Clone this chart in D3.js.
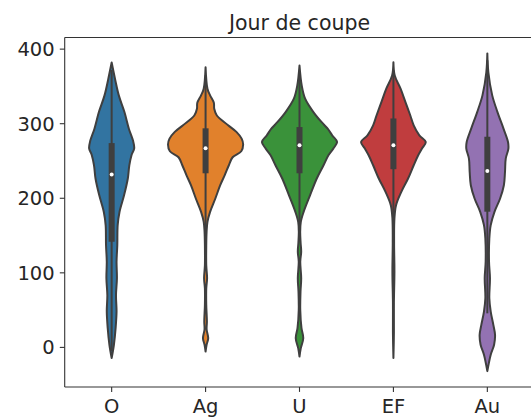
<!DOCTYPE html>
<html><head><meta charset="utf-8">
<script src="https://cdn.jsdelivr.net/npm/d3@7"></script>
<style>body{margin:0;background:#fff}svg{display:block}text{font-family:"DejaVu Sans",sans-serif;fill:#262626}</style>
</head><body>
<script>
const title = "Jour de coupe";
const categories = ["O","Ag","U","EF","Au"];
const colors = ["#3274a1","#e1812c","#3a923a","#c03d3e","#9372b2"];
const yTicks = [0,100,200,300,400];
// density profiles: [value, relative half-width]
const profO = [[382,0],[360,0.09],[338,0.19],[315.6,0.34],[293,0.46],[277,0.57],[267,0.6],[258,0.53],[244,0.47],[226.5,0.43],[204,0.33],[182,0.21],[164,0.16],[137,0.15],[115,0.13],[92.7,0.14],[70,0.115],[48,0.13],[25.8,0.105],[3.5,0.06],[-14.3,0]];
const profAg = [[375.8,0],[347,0.05],[338,0.12],[328,0.22],[320,0.23],[311,0.3],[298,0.6],[289,0.82],[280,0.96],[272,1.0],[263,0.95],[255,0.72],[244.3,0.62],[231,0.51],[217.5,0.39],[199.7,0.26],[181.8,0.12],[168.4,0.05],[155,0.027],[137,0.018],[110,0.018],[92.7,0.04],[79,0.018],[57,0.018],[34.6,0.035],[24,0.028],[12.4,0.07],[3.5,0.027],[-5.5,0]];
const profU = [[378,0],[351,0.06],[333.5,0.15],[315.6,0.37],[302,0.59],[293.4,0.75],[284.4,0.87],[275.5,1.0],[266.6,0.9],[257.7,0.77],[244.3,0.64],[226.5,0.46],[204,0.28],[181.8,0.11],[168.4,0.035],[155,0.018],[140,0.03],[128.3,0.045],[115,0.02],[92.7,0.045],[74.8,0.027],[50,0.02],[25.8,0.053],[12.4,0.1],[-1,0.035],[-12.2,0]];
const profEF = [[382.5,0],[364.7,0.035],[347,0.19],[329,0.32],[311,0.45],[297.8,0.54],[284.4,0.69],[275.5,0.86],[266.6,0.76],[257.7,0.66],[244.3,0.54],[226.5,0.39],[208.6,0.21],[190.8,0.07],[173,0.027],[140,0.018],[101.6,0.027],[60,0.013],[20,0.013],[-14.3,0]];
const profAu = [[394.3,0],[369,0.027],[338,0.13],[315.6,0.27],[293.4,0.43],[275.5,0.55],[266.6,0.56],[253.2,0.49],[235.3,0.47],[217.5,0.44],[199.7,0.34],[181.8,0.19],[164,0.09],[146.2,0.053],[114.9,0.045],[92.7,0.07],[66,0.053],[48,0.09],[30.2,0.16],[16.9,0.205],[3.5,0.18],[-9.9,0.09],[-31.8,0]];
const profiles = [profO, profAg, profU, profEF, profAu];
// box stats: [whiskerLow, q1, median, q3, whiskerHigh]
const boxO = [-5,141.7,232,274,372];
const boxAg = [150,233.5,267,293.8,365];
const boxU = [145,233.5,271,295.5,368];
const boxEF = [140,239,271,307,372];
const boxAu = [45.7,182,236.5,282.5,385];
const boxes = [boxO, boxAg, boxU, boxEF, boxAu];

const W = 531, H = 419;
const L = 64.7, R = 534.3, T = 37.5, B = 387;
const svg = d3.select("body").append("svg").attr("width", W).attr("height", H);
const x = d3.scaleLinear().domain([-0.5, 4.5]).range([L, R]);
const y = d3.scaleLinear().domain([-53.1, 415.6]).range([B, T]);
const hwMax = (x(1) - x(0)) * 0.4;
const gray = "#3f3f3f";

categories.forEach((c, i) => {
  const cx = x(i);
  const area = d3.area()
    .x0(d => cx - d[1] * hwMax)
    .x1(d => cx + d[1] * hwMax)
    .y(d => y(d[0]))
    .curve(d3.curveCatmullRom.alpha(0.5));
  svg.append("path").attr("d", area(profiles[i]))
    .attr("fill", colors[i]).attr("stroke", gray).attr("stroke-width", 2).attr("stroke-linejoin", "round");
  const b = boxes[i];
  svg.append("line").attr("x1", cx).attr("x2", cx).attr("y1", y(b[0])).attr("y2", y(b[4]))
    .attr("stroke", gray).attr("stroke-width", 2);
  svg.append("line").attr("x1", cx).attr("x2", cx).attr("y1", y(b[1])).attr("y2", y(b[3]))
    .attr("stroke", gray).attr("stroke-width", 6);
  svg.append("circle").attr("cx", cx).attr("cy", y(b[2])).attr("r", 2).attr("fill", "#fff");
});

// spines
const spine = "#333";
svg.append("line").attr("x1", L).attr("x2", L).attr("y1", T).attr("y2", B).attr("stroke", spine).attr("stroke-width", 1.1);
svg.append("line").attr("x1", L).attr("x2", R).attr("y1", T).attr("y2", T).attr("stroke", spine).attr("stroke-width", 1.1);
svg.append("line").attr("x1", L).attr("x2", R).attr("y1", B).attr("y2", B).attr("stroke", spine).attr("stroke-width", 1.1);
svg.append("line").attr("x1", R).attr("x2", R).attr("y1", T).attr("y2", B).attr("stroke", spine).attr("stroke-width", 1.1);

// y axis
const yAxis = svg.append("g");
yTicks.forEach(t => {
  yAxis.append("line").attr("x1", L - 4.9).attr("x2", L).attr("y1", y(t)).attr("y2", y(t)).attr("stroke", spine).attr("stroke-width", 1.1);
  yAxis.append("text").attr("x", L - 10).attr("y", y(t) + 7).attr("text-anchor", "end")
    .style("font-size", "19.5px").text(t);
});
// x axis
categories.forEach((c, i) => {
  svg.append("line").attr("x1", x(i)).attr("x2", x(i)).attr("y1", B).attr("y2", B + 4.9).attr("stroke", spine).attr("stroke-width", 1.1);
  svg.append("text").attr("x", x(i)).attr("y", 413).attr("text-anchor", "middle")
    .style("font-size", "19.5px").text(c);
});
svg.append("text").attr("x", (L + R) / 2).attr("y", 30).attr("text-anchor", "middle")
  .style("font-size", "20.5px").text(title);
</script>
</body></html>
